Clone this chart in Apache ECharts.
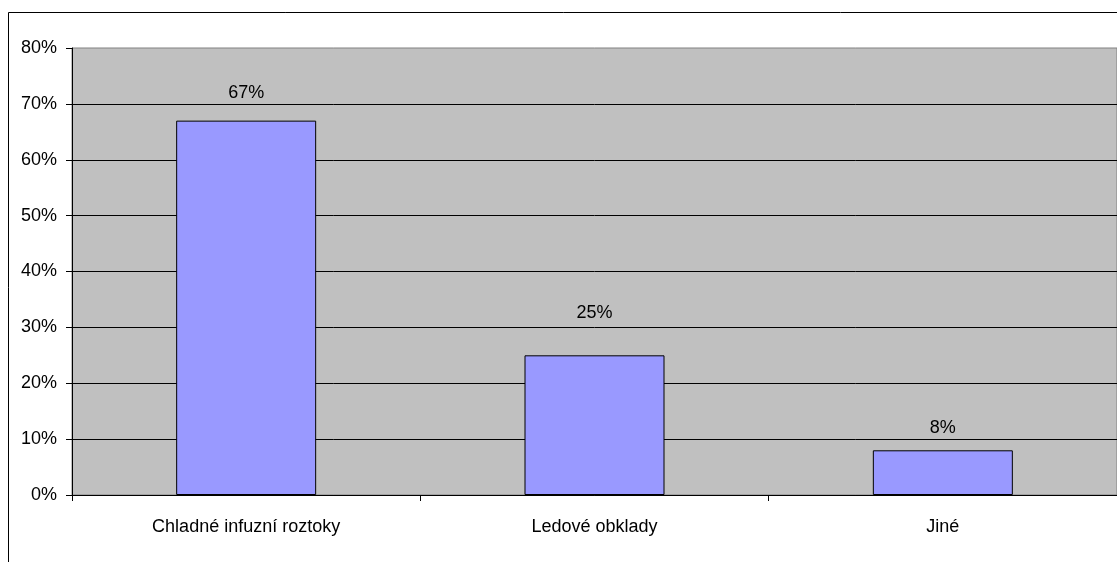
<!DOCTYPE html>
<html>
<head>
<meta charset="utf-8">
<script src="https://cdn.jsdelivr.net/npm/echarts@6/dist/echarts.min.js"></script>
<style>
  html, body { margin: 0; padding: 0; background: #ffffff; }
  #chart { width: 1117px; height: 562px; }
</style>
</head>
<body>
<div id="chart"></div>
<script>
// Categories and shares (percent)
const categories = ['Chladné infuzní roztoky', 'Ledové obklady', 'Jiné'];
const shares = [67, 25, 8];
const yTicks = [0, 10, 20, 30, 40, 50, 60, 70, 80];

const FONT = '"Liberation Sans Narrow", "Arial Narrow", "Liberation Sans", Arial, sans-serif';
const FONT_SIZE = 18;

const chart = echarts.init(document.getElementById('chart'), null, { renderer: 'canvas' });

// per-bar gap between the bar top and its value label
const labelGap = [19, 33, 13];

chart.setOption({
  animation: false,
  backgroundColor: '#ffffff',
  graphic: [{
    type: 'rect',
    shape: { x: 8.5, y: 12.5, width: 1200, height: 700 },
    style: { fill: 'none', stroke: '#000000', lineWidth: 1 },
    silent: true,
    z: 100
  }],
  grid: {
    left: 72, top: 48, width: 1045, height: 447,
    show: true,
    backgroundColor: '#c0c0c0',
    borderColor: '#808080',
    borderWidth: 1
  },
  xAxis: {
    type: 'category',
    data: categories,
    axisLine: { show: true, lineStyle: { color: '#000000', width: 1 } },
    axisTick: { show: true, alignWithLabel: false, length: 6, lineStyle: { color: '#000000' } },
    axisLabel: { color: '#000000', fontFamily: FONT, fontSize: FONT_SIZE, margin: 23 },
    splitLine: { show: false }
  },
  yAxis: {
    type: 'value',
    min: yTicks[0], max: yTicks[yTicks.length - 1], interval: yTicks[1] - yTicks[0],
    axisLine: { show: true, lineStyle: { color: '#000000', width: 1 } },
    axisTick: { show: true, length: 6, lineStyle: { color: '#000000' } },
    axisLabel: { color: '#000000', fontFamily: FONT, fontSize: FONT_SIZE, margin: 15, formatter: v => v + '%' },
    splitLine: { show: true, showMaxLine: false, lineStyle: { color: '#000000', width: 1 } }
  },
  series: [{
    type: 'bar',
    barWidth: 140,
    data: shares.map((v, i) => ({
      value: v,
      label: { distance: labelGap[i] }
    })),
    itemStyle: { color: '#9999ff', borderColor: '#000000', borderWidth: 1 },
    label: {
      show: true,
      position: 'top',
      color: '#000000',
      fontFamily: FONT,
      fontSize: FONT_SIZE,
      formatter: p => p.value + '%'
    }
  }]
});
</script>
</body>
</html>
